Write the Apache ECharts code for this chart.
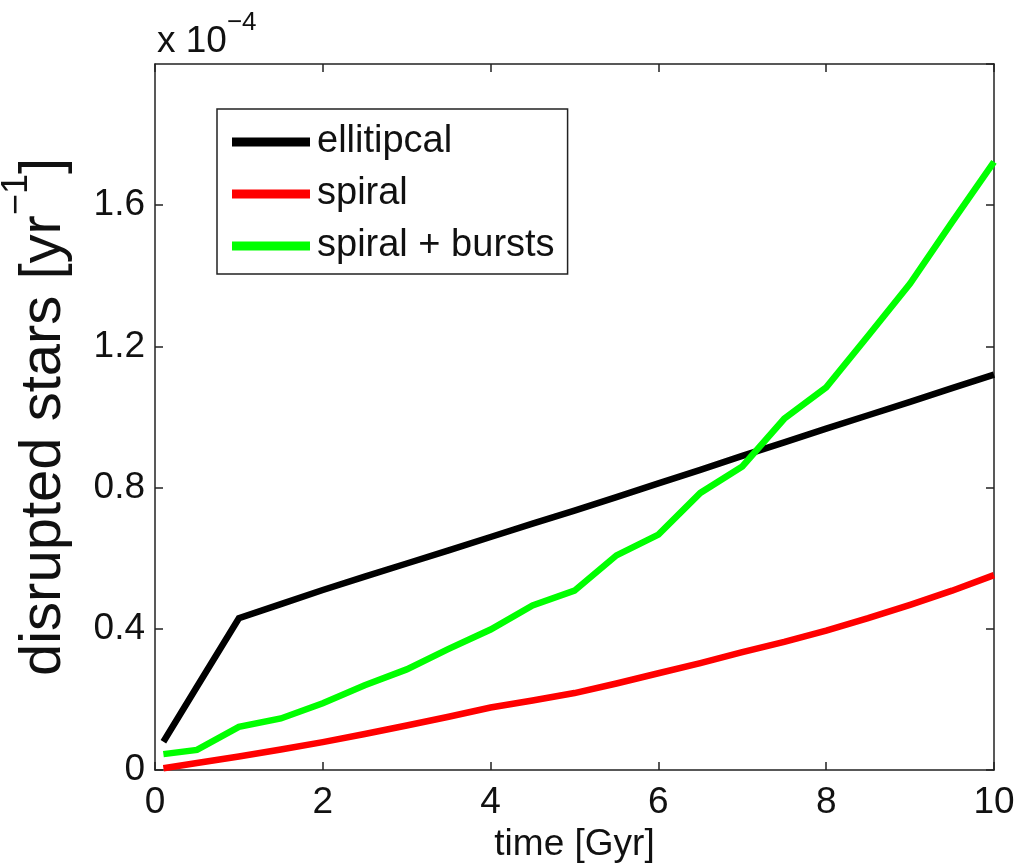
<!DOCTYPE html>
<html>
<head>
<meta charset="utf-8">
<script src="https://cdn.jsdelivr.net/npm/echarts@6/dist/echarts.min.js"></script>
<style>
html,body{margin:0;padding:0;background:#fff;}
#chart{width:1018px;height:867px;}
</style>
</head>
<body>
<div id="chart"></div>
<script>
// time [Gyr]
const timeGyr = [0.1, 0.5, 1, 1.5, 2, 2.5, 3, 3.5, 4, 4.5, 5, 5.5, 6, 6.5, 7, 7.5, 8, 8.5, 9, 9.5, 10];
// disrupted stars [x 1e-4 yr^-1]
const ellipticalRate = [0.08, 0.236, 0.43, 0.47, 0.51, 0.548, 0.585, 0.622, 0.66, 0.698, 0.735, 0.773, 0.812, 0.85, 0.89, 0.928, 0.967, 1.005, 1.043, 1.082, 1.12];
const spiralRate = [0.005, 0.02, 0.038, 0.058, 0.079, 0.102, 0.126, 0.151, 0.177, 0.197, 0.218, 0.245, 0.274, 0.303, 0.334, 0.363, 0.395, 0.43, 0.468, 0.508, 0.552];
const burstsRate = [0.045, 0.057, 0.122, 0.146, 0.189, 0.24, 0.285, 0.343, 0.398, 0.466, 0.508, 0.608, 0.667, 0.785, 0.86, 0.995, 1.084, 1.23, 1.378, 1.552, 1.723];
const seriesNames = ['ellitipcal', 'spiral', 'spiral + bursts'];
const seriesColors = ['#000000', '#ff0000', '#00ff00'];
const xTicks = [0, 2, 4, 6, 8, 10];
const yTickLabels = ['0', '0.4', '0.8', '1.2', '1.6'];

const FONT = '"Liberation Sans", Arial, Helvetica, sans-serif';
const TXT = '#111111';
const AX = '#222222';

function pairs(ys) { return timeGyr.map((t, i) => [t, ys[i]]); }
const allRates = [ellipticalRate, spiralRate, burstsRate];

const chart = echarts.init(document.getElementById('chart'), null, {renderer: 'canvas'});

const axisLineStyle = {show: true, onZero: false, lineStyle: {color: AX, width: 1.5}};
const tickStyle = {show: true, inside: true, length: 8, lineStyle: {color: AX, width: 1.5}};

chart.setOption({
  animation: false,
  backgroundColor: '#ffffff',
  grid: {left: 155, right: 24, top: 64, bottom: 97, containLabel: false, outerBoundsMode: 'none'},
  legend: {
    orient: 'vertical',
    left: 217, top: 109,
    backgroundColor: '#ffffff',
    borderColor: AX, borderWidth: 1.5, borderRadius: 0,
    padding: [11, 13, 6, 15],
    itemWidth: 78, itemHeight: 9, itemGap: 8,
    icon: 'rect',
    data: seriesNames,
    textStyle: {fontFamily: FONT, fontSize: 38, lineHeight: 44, color: TXT, padding: [0, 0, 0, 2]}
  },
  xAxis: [{
    type: 'value', min: 0, max: 10, interval: 2,
    position: 'bottom',
    name: 'time [Gyr]', nameLocation: 'middle', nameGap: 56,
    nameTextStyle: {fontFamily: FONT, fontSize: 37, color: TXT},
    axisLine: axisLineStyle, axisTick: tickStyle,
    axisLabel: {fontFamily: FONT, fontSize: 37, color: TXT, margin: 14,
      formatter: v => (xTicks.indexOf(v) >= 0 ? String(v) : '')},
    splitLine: {show: false}
  }, {
    type: 'value', min: 0, max: 10, interval: 2,
    position: 'top',
    axisLine: axisLineStyle, axisTick: tickStyle,
    axisLabel: {show: false}, splitLine: {show: false}
  }],
  yAxis: [{
    type: 'value', min: 0, max: 2, interval: 0.4,
    position: 'left',
    name: '{a|disrupted stars [yr}{s|−1}{a|]}',
    nameLocation: 'middle', nameGap: 82, nameRotate: 90,
    nameTextStyle: {
      fontFamily: FONT, color: TXT,
      rich: {
        a: {fontFamily: FONT, fontSize: 58, lineHeight: 74, color: TXT, verticalAlign: 'bottom'},
        s: {fontFamily: FONT, fontSize: 36, lineHeight: 40, color: TXT, verticalAlign: 'top'}
      }
    },
    axisLine: axisLineStyle, axisTick: tickStyle,
    axisLabel: {fontFamily: FONT, fontSize: 37, color: TXT, margin: 10, showMaxLabel: false,
      formatter: (v, i) => (i < yTickLabels.length ? yTickLabels[i] : '')},
    splitLine: {show: false}
  }, {
    type: 'value', min: 0, max: 2, interval: 0.4,
    position: 'right',
    axisLine: axisLineStyle, axisTick: tickStyle,
    axisLabel: {show: false}, splitLine: {show: false}
  }],
  graphic: [{
    type: 'text', left: 157, top: 10, silent: true,
    style: {
      text: '{a|x 10}{s|−4}',
      rich: {
        a: {fontFamily: FONT, fontSize: 37, lineHeight: 50, fill: TXT, verticalAlign: 'bottom'},
        s: {fontFamily: FONT, fontSize: 26, lineHeight: 30, fill: TXT, verticalAlign: 'top'}
      }
    }
  }],
  series: seriesNames.map((nm, k) => ({
    name: nm, type: 'line', xAxisIndex: 0, yAxisIndex: 0,
    data: pairs(allRates[k]),
    showSymbol: false, symbol: 'none',
    color: seriesColors[k],
    lineStyle: {color: seriesColors[k], width: 6.5, cap: 'butt', join: 'miter'},
    z: 2 + k
  }))
});
</script>
</body>
</html>
